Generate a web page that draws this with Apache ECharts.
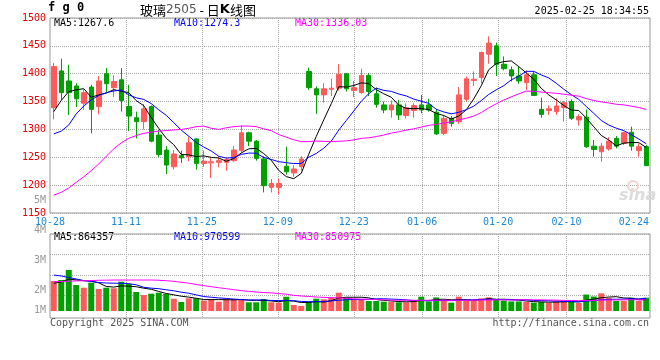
<!DOCTYPE html>
<html>
<head>
<meta charset="utf-8">
<script src="https://cdn.jsdelivr.net/npm/echarts@6/dist/echarts.min.js"></script>
<style>html,body{margin:0;padding:0;background:#fff}#c{width:660px;height:360px}</style>
</head>
<body>
<div id="c"></div>
<script>
const dates = ['10-28','10-29','10-30','10-31','11-01','11-04','11-05','11-06','11-07','11-08',
'11-11','11-12','11-13','11-14','11-15','11-18','11-19','11-20','11-21','11-22',
'11-25','11-26','11-27','11-28','11-29','12-02','12-03','12-04','12-05','12-06',
'12-09','12-10','12-11','12-12','12-13','12-16','12-17','12-18','12-19','12-20',
'12-23','12-24','12-25','12-26','12-27','12-30','12-31','01-02','01-03','01-06',
'01-07','01-08','01-09','01-10','01-13','01-14','01-15','01-16','01-17','01-20',
'01-21','01-22','01-23','01-24','01-27','02-05','02-06','02-07','02-10','02-11',
'02-12','02-13','02-14','02-17','02-18','02-19','02-20','02-21','02-24','02-25'];

const open = [1339,1405,1387,1378,1347,1376,1341,1400,1375,1389, 1341,1321,1314,1341,1290,1263,1233,1253,1251,1283,
1239,1240,1241,1241,1244,1262,1294,1279,1247,1196, 1196,1234,1222,1233,1404,1373,1362,1372,1374,1400,
1370,1366,1397,1364,1344,1335,1344,1325,1334,1344, 1344,1331,1293,1320,1314,1354,1388,1393,1435,1450,
1417,1407,1396,1384,1398,1336,1334,1332,1339,1350, 1317,1322,1270,1260,1265,1284,1275,1295,1262,1269];
const close = [1413,1366,1366,1355,1366,1336,1387,1382,1386,1352, 1324,1314,1337,1279,1255,1236,1256,1249,1276,1239,
1243,1242,1244,1246,1263,1294,1279,1248,1199,1203, 1203,1224,1229,1247,1375,1362,1373,1374,1399,1373,
1375,1397,1368,1345,1335,1344,1326,1339,1343,1335, 1335,1292,1320,1311,1362,1391,1390,1438,1455,1417,
1409,1396,1387,1398,1361,1327,1337,1342,1348,1320, 1323,1269,1264,1270,1279,1270,1294,1270,1269,1235];
const low = [1318,1353,1326,1340,1335,1293,1327,1367,1358,1332, 1297,1284,1300,1277,1250,1220,1228,1240,1243,1228,
1233,1213,1232,1226,1242,1258,1270,1244,1187,1187, 1184,1219,1215,1226,1371,1328,1348,1360,1370,1368,
1358,1364,1360,1339,1329,1321,1317,1320,1321,1329, 1332,1290,1290,1305,1310,1350,1378,1383,1418,1396,
1406,1386,1382,1371,1360,1321,1326,1326,1314,1317, 1307,1267,1251,1242,1262,1266,1272,1262,1251,1235];
const high = [1419,1427,1416,1383,1372,1380,1396,1410,1397,1410, 1380,1332,1346,1343,1299,1270,1263,1262,1287,1284,
1262,1249,1252,1250,1270,1307,1296,1281,1252,1211, 1211,1269,1236,1252,1411,1377,1383,1391,1417,1401,
1387,1409,1401,1375,1350,1352,1353,1347,1347,1362, 1355,1336,1326,1324,1376,1395,1404,1440,1467,1456,
1431,1413,1413,1406,1404,1357,1343,1356,1351,1354, 1327,1336,1281,1276,1286,1288,1296,1305,1275,1272];

const volume = [2295000,2372000,3137000,1989000,1782000,2165000,1683000,1782000,1737000,2241000,
2066000,1454000,1224000,1323000,1400000,1301000,941000,689000,972000,972000,
788000,918000,711000,918000,918000,918000,666000,666000,918000,666000,
635000,1094000,459000,383000,711000,941000,895000,1017000,1400000,1017000,
918000,918000,765000,765000,711000,711000,666000,666000,842000,1094000,
730000,1040000,800000,640000,1100000,800000,800000,970000,1040000,870000,
800000,730000,730000,690000,640000,690000,640000,730000,800000,730000,
620000,1260000,1110000,1350000,990000,765000,765000,1017000,765000,1017000];

// moving-average values for days whose window starts before the first shown day
const ma5Head = [1332,1352,1368,1371];
const ma10Head = [1292,1297,1308,1328,1342,1353,1361,1366,1369];
const ma30Head = [1182,1187,1195,1205,1215,1226,1238,1252,1265,1276,1284,1289,1293,1295,1297,1298,1299,1300,1302,1305,1306,1302,1300,1303,1305,1306,1306,1305,1301];
const vma5Head = [2120000,2220000,2430000,2380000];
const vma10Head = [2750000,2680000,2560000,2450000,2330000,2260000,2180000,2140000,2130000];
const vma30Head = [2240000,2260000,2280000,2300000,2320000,2330000,2350000,2360000,2370000,2370000,2370000,2370000,2370000,2370000,2350000,2320000,2270000,2200000,2130000,2030000,1940000,1860000,1780000,1710000,1630000,1560000,1500000,1450000,1410000];

const dateTicks = ['10-28','11-11','11-25','12-09','12-23','01-06','01-20','02-10','02-24'];
const priceLegend = ['MA5:1267.6','MA10:1274.3','MA30:1336.03'];
const volLegend = ['MA5:864357','MA10:970599','MA30:850975'];
const volTickLabels = ['5M','4M','3M','2M','1M'];
const volTickSlots = [11,8,5,2,0];

function ma(src, n, head) {
  return src.map((v, i) => {
    if (i < n - 1) return head[i];
    let s = 0;
    for (let k = i - n + 1; k <= i; k++) s += src[k];
    return +(s / n).toFixed(2);
  });
}

const UP = '#ff5a5a', DOWN = '#00a000';
const MONO = '"DejaVu Sans Mono", monospace';
const gridDates = dateTicks.slice(1, -1);

const chart = echarts.init(document.getElementById('c'), null, {renderer: 'canvas'});
const kData = dates.map((d, i) => [open[i], close[i], low[i], high[i]]);
const volData = volume.map((v, i) => ({value: v, itemStyle: {color: close[i] >= open[i] ? UP : DOWN}}));

const lineS = (data, color, xi, yi) => ({
  type: 'line', data, xAxisIndex: xi, yAxisIndex: yi, symbol: 'none', showSymbol: false,
  lineStyle: {color, width: 1}, itemStyle: {color}, silent: true, z: 5, animation: false
});

const legendTexts = (arr, top) => arr.map((t, i) => ({
  type: 'text', left: [54, 174, 295][i], top,
  style: {text: t, fill: ['#000', '#0000ff', '#ff00ff'][i], font: '10px ' + MONO}
}));

const option = {
  animation: false,
  backgroundColor: '#fff',
  textStyle: {fontFamily: MONO},
  title: [
    {text: 'f g 0', left: 48, top: 2, padding: 0,
     textStyle: {fontFamily: MONO, fontWeight: 'bold', fontSize: 12, color: '#000'}},
    {text: '{a|玻璃}{b|2505}{a| - 日}{k|K}{a|线图}', left: 140, top: 2, padding: 0,
     textStyle: {fontWeight: 'normal', rich: {
       a: {fontFamily: '"Noto Sans CJK SC"', fontSize: 13, fontWeight: 'normal', color: '#000', lineHeight: 16},
       k: {fontFamily: '"DejaVu Sans"', fontSize: 13, fontWeight: 'bold', color: '#000', lineHeight: 16},
       b: {fontFamily: '"DejaVu Sans"', fontSize: 12, fontWeight: 'normal', color: '#555', lineHeight: 16}}}},
    {text: '2025-02-25 18:34:55', right: 11, top: 6, padding: 0,
     textStyle: {fontFamily: MONO, fontWeight: 'normal', fontSize: 10, color: '#000'}}
  ],
  grid: [
    {left: 50, top: 18, width: 600, height: 195, show: true, borderColor: '#999', borderWidth: 1},
    {left: 50, top: 234, width: 600, height: 84, show: true, borderColor: '#999', borderWidth: 1},
    {left: 50, top: 234, width: 600, height: 61.5, show: false},
    {left: 50, top: 200.5, width: 600, height: 110, show: false}
  ],
  xAxis: [
    {type: 'category', gridIndex: 0, data: dates, boundaryGap: true, show: false},
    {type: 'category', gridIndex: 0, data: dates, boundaryGap: false, position: 'bottom',
     axisLine: {show: false}, axisTick: {show: false},
     axisLabel: {interval: (i, v) => dateTicks.includes(v), color: '#1e88d6', fontSize: 10, margin: 4,
       fontFamily: MONO,
       formatter: v => v === dateTicks[dateTicks.length - 1] ? '{s|' + v + '}' : v,
       rich: {s: {color: '#1e88d6', fontSize: 10, fontFamily: MONO, padding: [0, 17, 0, 0]}}},
     splitLine: {show: true, interval: (i, v) => gridDates.includes(v), lineStyle: {type: 'dotted', color: '#aaa', width: 1}}},
    {type: 'category', gridIndex: 1, data: dates, boundaryGap: true, show: false},
    {type: 'category', gridIndex: 1, data: dates, boundaryGap: false, position: 'bottom',
     axisLine: {show: false}, axisTick: {show: false}, axisLabel: {show: false},
     splitLine: {show: true, interval: (i, v) => gridDates.includes(v), lineStyle: {type: 'dotted', color: '#aaa', width: 1}}},
    {type: 'value', gridIndex: 2, show: false, min: 0, max: 1},
    {type: 'value', gridIndex: 3, show: false, min: 0, max: 1}
  ],
  yAxis: [
    {type: 'value', gridIndex: 0, min: 1150, max: 1500, interval: 50, position: 'left',
     axisLine: {show: false}, axisTick: {show: false},
     axisLabel: {color: '#e60000', fontSize: 10, margin: 4, fontFamily: MONO, formatter: v => String(v)},
     splitLine: {show: true, lineStyle: {type: 'dotted', color: '#aaa', width: 1}}},
    {type: 'value', gridIndex: 1, min: -535500, max: 5890500, show: false},
    {type: 'value', gridIndex: 2, min: 0, max: 3, interval: 1, position: 'left',
     axisLine: {show: false}, axisTick: {show: false}, axisLabel: {show: false},
     splitLine: {show: true, lineStyle: {type: 'dotted', color: '#aaa', width: 1}}},
    {type: 'value', gridIndex: 3, min: 0, max: 11, interval: 1, position: 'left',
     axisLine: {show: false}, axisTick: {show: false}, splitLine: {show: false},
     axisLabel: {color: '#999', fontSize: 10, margin: 4, fontFamily: MONO,
       formatter: v => { const k = volTickSlots.indexOf(v); return k >= 0 ? volTickLabels[k] : ''; }}}
  ],
  series: [
    {type: 'candlestick', xAxisIndex: 0, yAxisIndex: 0, data: kData, barWidth: 5, silent: true,
     itemStyle: {color: UP, color0: DOWN, borderColor: UP, borderColor0: DOWN, borderWidth: 1}},
    lineS(ma(close, 5, ma5Head), '#000000', 0, 0),
    lineS(ma(close, 10, ma10Head), '#0000ff', 0, 0),
    lineS(ma(close, 30, ma30Head), '#ff00ff', 0, 0),
    {type: 'bar', xAxisIndex: 2, yAxisIndex: 1, data: volData, barWidth: 6, silent: true},
    lineS(ma(volume, 5, vma5Head), '#000000', 2, 1),
    lineS(ma(volume, 10, vma10Head), '#0000ff', 2, 1),
    lineS(ma(volume, 30, vma30Head), '#ff00ff', 2, 1)
  ],
  graphic: [
    ...legendTexts(priceLegend, 18),
    ...legendTexts(volLegend, 232),
    {type: 'text', left: 50, top: 318, style: {text: 'Copyright 2025 SINA.COM', fill: '#555', font: '10px ' + MONO}},
    {type: 'text', right: 11, top: 318, style: {text: 'http://finance.sina.com.cn', fill: '#555', font: '10px ' + MONO}},
    {type: 'circle', shape: {cx: 633, cy: 186, r: 5}, style: {fill: 'none', stroke: '#f4d0d0', lineWidth: 2}, z: 1},
    {type: 'text', left: 619, top: 188, z: 1, style: {text: 'sina', fill: '#dcdcdc', font: 'italic bold 16px "DejaVu Sans"'}}
  ]
};
chart.setOption(option);
</script>
</body>
</html>
